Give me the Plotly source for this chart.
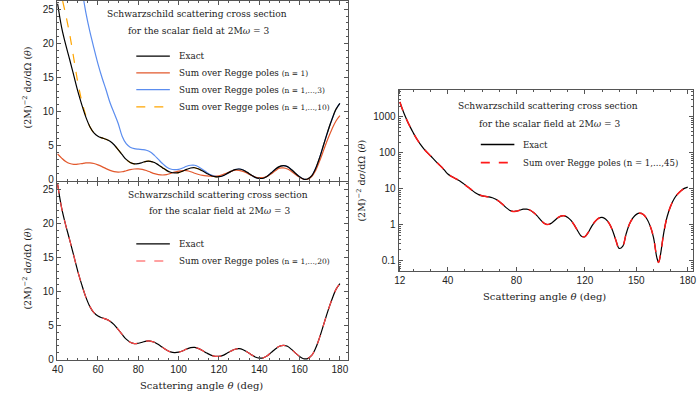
import plotly.graph_objects as go

# ---------------- data ----------------
exact_theta = [12, 13, 14, 15, 16, 17, 18, 19, 20, 22, 24, 26, 28, 30, 32, 34, 36, 38,
               40, 42, 44, 46, 48, 50, 52, 54, 56, 58, 60, 62, 64, 66, 68, 70, 72, 74,
               76, 78, 80, 82, 84, 86, 88, 90, 92, 94, 96, 98, 100, 102, 104, 106, 108,
               110, 112, 114, 116, 118, 120, 122, 124, 126, 128, 130, 132, 134, 136, 138,
               140, 142, 144, 146, 148, 150, 152, 154, 156, 158, 160, 162, 163, 164, 166,
               168, 170, 172, 174, 176, 178, 180]
exact_vals = [2600, 1900, 1420, 1080, 840, 660, 530, 430, 350, 240, 172, 130, 102, 82, 65,
              52, 42, 33, 25.8, 22.3, 19.8, 17.6, 15.3, 13.0, 11.0, 9.2, 7.8, 6.9, 6.4,
              6.15, 5.95, 5.65, 5.15, 4.45, 3.7, 3.0, 2.55, 2.35, 2.4, 2.55, 2.72, 2.72,
              2.55, 2.2, 1.8, 1.4, 1.12, 1.02, 1.08, 1.28, 1.55, 1.75, 1.78, 1.6, 1.3,
              0.95, 0.65, 0.48, 0.47, 0.62, 0.92, 1.25, 1.52, 1.6, 1.45, 1.12, 0.72, 0.38,
              0.22, 0.25, 0.55, 1.05, 1.55, 1.95, 2.1, 1.95, 1.5, 0.95, 0.45, 0.12, 0.09,
              0.14, 0.6, 1.7, 3.3, 5.2, 7.1, 8.8, 10.3, 11.2]

n1_theta = [40, 42, 44, 46, 48, 50, 52, 54, 56, 58, 60, 62, 64, 66, 68, 70, 72, 74, 76,
            78, 80, 82, 84, 86, 88, 90, 92, 94, 96, 98, 100, 102, 104, 106, 108, 110, 112,
            114, 116, 118, 120, 122, 124, 126, 128, 130, 132, 134, 136, 138, 140, 142, 144,
            146, 148, 150, 152, 154, 156, 158, 160, 162, 163, 164, 166, 168, 170, 172, 174,
            176, 178, 180]
n1_vals = [3.8, 3.2, 2.7, 2.4, 2.28, 2.3, 2.4, 2.5, 2.5, 2.4, 2.2, 1.95, 1.65, 1.4, 1.22,
           1.15, 1.2, 1.35, 1.5, 1.6, 1.62, 1.55, 1.38, 1.15, 0.92, 0.78, 0.72, 0.78, 0.95,
           1.15, 1.3, 1.38, 1.35, 1.2, 0.98, 0.8, 0.68, 0.6, 0.54, 0.52, 0.6, 0.78, 1.02,
           1.25, 1.42, 1.4, 1.25, 0.98, 0.68, 0.42, 0.33, 0.36, 0.55, 0.92, 1.35, 1.72,
           1.76, 1.6, 1.25, 0.8, 0.38, 0.1, 0.06, 0.1, 0.5, 1.4, 2.8, 4.4, 6.0, 7.4, 8.6, 9.4]

n3_head_theta = [53, 54, 56, 58, 60, 62, 64, 66, 68, 70, 72, 74, 76, 78, 80, 82, 84, 86, 88,
                 90, 92, 94, 96, 98, 100, 102, 104, 106, 108, 110, 112, 114, 116, 118]
n3_head_vals = [26.2, 24.5, 21.7, 19.3, 17.0, 15.0, 13.2, 11.3, 9.8, 8.3, 6.4, 5.3, 4.8,
                4.58, 4.5, 4.45, 4.35, 4.1, 3.6, 3.0, 2.4, 1.9, 1.6, 1.5, 1.55, 1.75, 2.0,
                2.15, 2.15, 1.9, 1.5, 1.1, 0.75, 0.55]

n10_head_theta = [42.5, 44, 46, 48, 50, 52, 54]
n10_head_vals = [26.2, 24.2, 21.3, 17.8, 14.3, 11.5, 9.4]

x_ticks_right = [12, 40, 80, 120, 150, 180]
y_ticks_right = [0.1, 1, 10, 100, 1000]

# ----- tables built from the arrays above -----
def tail(start):
    pairs = [(t, v) for t, v in zip(exact_theta, exact_vals) if t >= start]
    return [p[0] for p in pairs], [p[1] for p in pairs]

t_tail, v_tail = tail(120)
n3_theta = n3_head_theta + t_tail
n3_vals = n3_head_vals + v_tail
t_tail, v_tail = tail(56)
n10_theta = n10_head_theta + t_tail
n10_vals = n10_head_vals + v_tail
lin_theta, lin_vals = tail(40)
r20_theta, r20_vals = list(lin_theta), list(lin_vals)
r45_theta, r45_vals = list(exact_theta), list(exact_vals)

W, H = 700, 398
SERIF = "DejaVu Serif"
SANS = "Liberation Sans"
TXT = "#222222"

def px(x):
    return x / W

def py(y):
    return 1 - y / H

C_EXACT = "#000000"
C_N1 = "#e2582c"
C_N3 = "#5b8def"
C_N10 = "#ffa500"
C_R20 = "#ff4444"
C_R45 = "#ff1a1a"

fig = go.Figure()
LW = 1.2
common = dict(mode="lines", line_shape="spline", showlegend=False, hoverinfo="skip")

# top-left panel
fig.add_trace(go.Scatter(x=n10_theta, y=n10_vals, line=dict(color=C_N10, width=LW, dash="dash"),
                         xaxis="x", yaxis="y", **common))
fig.add_trace(go.Scatter(x=n3_theta, y=n3_vals, line=dict(color=C_N3, width=LW),
                         xaxis="x", yaxis="y", **common))
fig.add_trace(go.Scatter(x=n1_theta, y=n1_vals, line=dict(color=C_N1, width=LW),
                         xaxis="x", yaxis="y", **common))
fig.add_trace(go.Scatter(x=lin_theta, y=lin_vals, line=dict(color=C_EXACT, width=LW),
                         xaxis="x", yaxis="y", **common))
# bottom-left panel
fig.add_trace(go.Scatter(x=lin_theta, y=lin_vals, line=dict(color=C_EXACT, width=LW),
                         xaxis="x2", yaxis="y2", **common))
fig.add_trace(go.Scatter(x=r20_theta, y=r20_vals, line=dict(color=C_R20, width=LW, dash="dash"),
                         xaxis="x2", yaxis="y2", **common))
# right panel
fig.add_trace(go.Scatter(x=exact_theta, y=exact_vals, line=dict(color=C_EXACT, width=LW),
                         xaxis="x3", yaxis="y3", **common))
fig.add_trace(go.Scatter(x=r45_theta, y=r45_vals, line=dict(color=C_R45, width=1.5, dash="dash"),
                         xaxis="x3", yaxis="y3", **common))

frame = dict(showline=True, linecolor="#555555", linewidth=1, mirror="ticks",
             ticks="inside", ticklen=4, tickcolor="#555555", showgrid=False, zeroline=False,
             ticklabeloverflow="allow",
             tickfont=dict(family=SANS, size=10, color=TXT))
minor_lin = dict(ticks="inside", ticklen=2, tickcolor="#555555")

xl_dom = [px(52.5), px(347)]
fig.update_layout(
    xaxis=dict(domain=xl_dom, range=[39.6, 183.8], tick0=40, dtick=20, showticklabels=False,
               anchor="y", minor=dict(dtick=5, **minor_lin), **frame),
    yaxis=dict(domain=[py(182.5), 1.0], range=[-0.12, 26.2], tick0=0, dtick=5, anchor="x",
               minor=dict(dtick=1, **minor_lin), **frame),
    xaxis2=dict(domain=xl_dom, range=[39.6, 183.8], tick0=40, dtick=20, anchor="y2",
                minor=dict(dtick=5, **minor_lin), **frame),
    yaxis2=dict(domain=[py(364.5), py(183.5)], range=[-0.07, 26.2], tick0=0, dtick=5, anchor="x2",
                minor=dict(dtick=1, **minor_lin), **frame),
    xaxis3=dict(domain=[px(398.7), px(696.5)], range=[11.25, 182.8], anchor="y3",
                tickvals=x_ticks_right, ticktext=[str(v) for v in x_ticks_right],
                minor=dict(tickvals=[20, 30, 50, 60, 70, 90, 100, 110, 130, 140, 160, 170], **minor_lin),
                **frame),
    yaxis3=dict(domain=[py(274.3), py(90)], type="log", range=[-1.29, 3.76], anchor="x3",
                tickvals=y_ticks_right, ticktext=["0.1", "1", "10", "100", "1000"],
                minor=dict(tickvals=[m * d for d in (0.01, 0.1, 1, 10, 100, 1000)
                                     for m in range(2, 10) if 0.055 < m * d < 5500], **minor_lin),
                **frame),
)

annots = []
shapes = []

def txt(x, y, s, size=9.1, angle=0, anchor="center"):
    annots.append(dict(x=px(x), y=py(y), xref="paper", yref="paper", text=s, showarrow=False,
                       xanchor=anchor, yanchor="middle", textangle=angle,
                       font=dict(family=SERIF, size=size, color=TXT)))

def legend_item(x0, x1, y, color, dash, label, width=LW, size=8.8):
    shapes.append(dict(type="line", xref="paper", yref="paper", x0=px(x0), x1=px(x1),
                       y0=py(y), y1=py(y), line=dict(color=color, width=width, dash=dash)))
    txt(x1 + 7, y, label, anchor="left", size=size)

small = "<span style='font-size:7.5px'>(n = %s)</span>"
legend_item(133, 167, 56, C_EXACT, "solid", "Exact")
legend_item(133, 167, 73, C_N1, "solid", "Sum over Regge poles " + small % "1")
legend_item(133, 167, 90, C_N3, "solid", "Sum over Regge poles " + small % "1,...,3")
legend_item(133, 167, 107.5, C_N10, "dash", "Sum over Regge poles " + small % "1,...,10")
legend_item(133, 167, 246.5, C_EXACT, "solid", "Exact")
legend_item(133, 167, 264, C_R20, "dash", "Sum over Regge poles " + small % "1,...,20")
legend_item(482, 516, 145.7, C_EXACT, "solid", "Exact", 1.5, 8.6)
legend_item(482, 516, 164, C_R45, "dash", "Sum over Regge poles (n = 1,...,45)", 1.8, 8.6)

t1 = "Schwarzschild scattering cross section"
t2 = "for the scalar field at 2M<i>ω</i> = 3"
txt(195, 13.5, t1); txt(197, 30.5, t2)
txt(215.5, 196.5, t1); txt(218, 213.5, t2)
txt(550.5, 107, t1); txt(552, 124.5, t2)
ylab = "(2M)<sup>−2</sup> d<i>σ</i>/dΩ (<i>θ</i>)"
txt(22, 88, ylab, size=9.5, angle=-90)
txt(22, 272, ylab, size=9.5, angle=-90)
txt(361, 182, ylab, size=9.5, angle=-90)
xlab = "Scattering angle <i>θ</i> (deg)"
txt(199, 390, xlab, size=10)
txt(547, 300, xlab, size=10)

fig.update_layout(annotations=annots, shapes=shapes, width=W, height=H,
                  margin=dict(l=0, r=0, t=0, b=0), hovermode=False,
                  paper_bgcolor="white", plot_bgcolor="white", showlegend=False)

fig.write_html("out.html", config={"displayModeBar": False, "staticPlot": True},
               post_script="document.body.style.margin='0';document.body.style.overflow='hidden';")
